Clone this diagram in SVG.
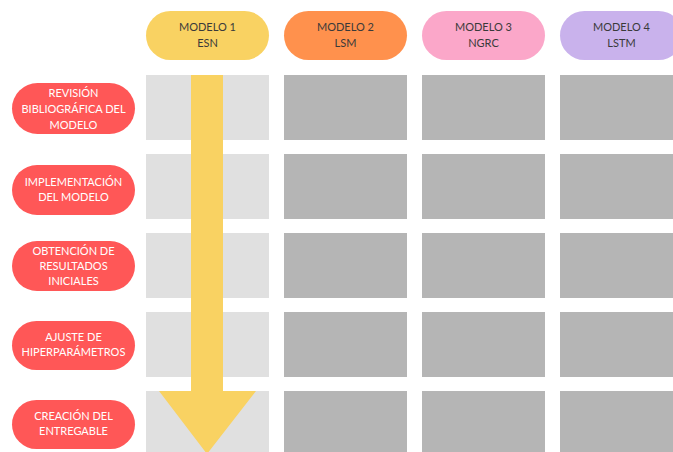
<svg xmlns="http://www.w3.org/2000/svg" width="673" height="452" viewBox="0 0 673 452">
<style>
text{font-family:Lato,"Liberation Sans",sans-serif;font-size:11px;text-anchor:middle;dominant-baseline:central}
.hd text{fill:#3a3a3a}
.lb rect{fill:#FF5757}
.lb text{fill:#ffffff}
.c1{fill:#E0E0E0}
.c2{fill:#B5B5B5}
</style>
<rect width="673" height="452" fill="#ffffff"/>
<g id="model1" class="hd"><rect x="146" y="11" width="123" height="49" rx="24.5" fill="#F9D262"/><text x="207.5" y="26">MODELO 1</text><text x="207.5" y="42">ESN</text></g>
<g id="model2" class="hd"><rect x="284" y="11" width="123" height="49" rx="24.5" fill="#FF914D"/><text x="345.5" y="26">MODELO 2</text><text x="345.5" y="42">LSM</text></g>
<g id="model3" class="hd"><rect x="422" y="11" width="123" height="49" rx="24.5" fill="#FBA7C9"/><text x="483.5" y="26">MODELO 3</text><text x="483.5" y="42">NGRC</text></g>
<g id="model4" class="hd"><rect x="560" y="11" width="123" height="49" rx="24.5" fill="#C9B2EC"/><text x="621.5" y="26">MODELO 4</text><text x="621.5" y="42">LSTM</text></g>

<g id="step1" class="lb"><rect x="12" y="83" width="123" height="51" rx="25.5"/><text x="73.5" y="92">REVISIÓN</text><text x="73.5" y="108">BIBLIOGRÁFICA DEL</text><text x="73.5" y="124">MODELO</text></g>
<g id="step2" class="lb"><rect x="12" y="165" width="123" height="50" rx="25"/><text x="73.5" y="181">IMPLEMENTACIÓN</text><text x="73.5" y="196">DEL MODELO</text></g>
<g id="step3" class="lb"><rect x="12" y="241" width="123" height="50" rx="25"/><text x="73.5" y="250">OBTENCIÓN DE</text><text x="73.5" y="265">RESULTADOS</text><text x="73.5" y="280">INICIALES</text></g>
<g id="step4" class="lb"><rect x="12" y="321" width="123" height="49" rx="24.5"/><text x="73.5" y="336">AJUSTE DE</text><text x="73.5" y="351">HIPERPARÁMETROS</text></g>
<g id="step5" class="lb"><rect x="12" y="400" width="123" height="49" rx="24.5"/><text x="73.5" y="415">CREACIÓN DEL</text><text x="73.5" y="430">ENTREGABLE</text></g>

<g id="grid">
<rect class="c1" x="146" y="75" width="123" height="65"/><rect class="c2" x="284" y="75" width="123" height="65"/><rect class="c2" x="422" y="75" width="123" height="65"/><rect class="c2" x="560" y="75" width="123" height="65"/>
<rect class="c1" x="146" y="154" width="123" height="65"/><rect class="c2" x="284" y="154" width="123" height="65"/><rect class="c2" x="422" y="154" width="123" height="65"/><rect class="c2" x="560" y="154" width="123" height="65"/>
<rect class="c1" x="146" y="233" width="123" height="65"/><rect class="c2" x="284" y="233" width="123" height="65"/><rect class="c2" x="422" y="233" width="123" height="65"/><rect class="c2" x="560" y="233" width="123" height="65"/>
<rect class="c1" x="146" y="312" width="123" height="65"/><rect class="c2" x="284" y="312" width="123" height="65"/><rect class="c2" x="422" y="312" width="123" height="65"/><rect class="c2" x="560" y="312" width="123" height="65"/>
<rect class="c1" x="146" y="391" width="123" height="65"/><rect class="c2" x="284" y="391" width="123" height="65"/><rect class="c2" x="422" y="391" width="123" height="65"/><rect class="c2" x="560" y="391" width="123" height="65"/>
</g>

<g id="connectors">
<polygon points="191,75 223,75 223,391 256,391 207,454 159,391 191,391" fill="#F9D262"/>
</g>
</svg>
